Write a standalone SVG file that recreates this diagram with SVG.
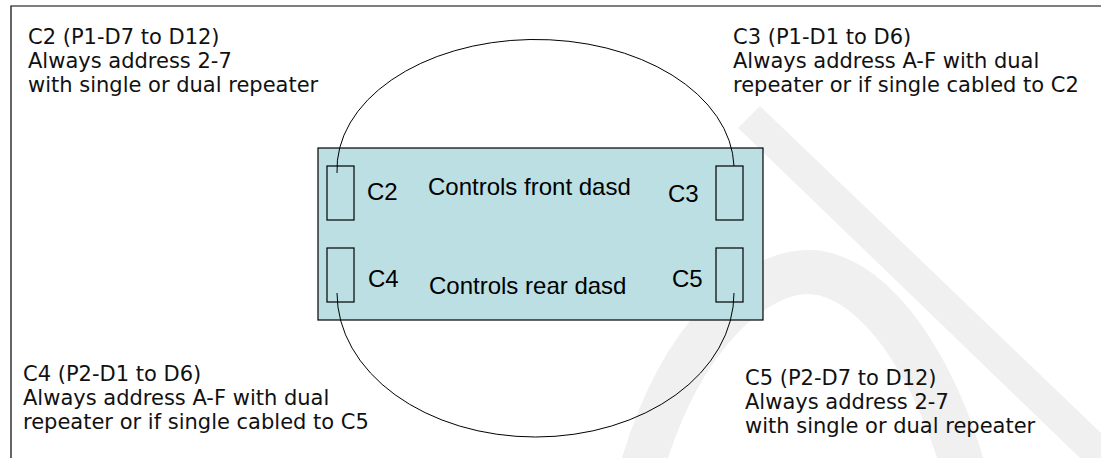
<svg xmlns="http://www.w3.org/2000/svg" width="1101" height="458" viewBox="0 0 1101 458">
<style>
.frame{fill:none;stroke:#000;stroke-width:1.2}
.board{fill:#bbdfe3;stroke:#000;stroke-width:1.2}
.slot{fill:#bbdfe3;stroke:#000;stroke-width:1.2}
.cable{fill:none;stroke:#000;stroke-width:1}
.lbl{font-family:"DejaVu Sans",Verdana,sans-serif;font-size:21px;fill:#111}
.in{font-family:"Liberation Sans",Arial,sans-serif;font-size:24px;fill:#000}
.wm{fill:#f0f0f0}
.wms{fill:none;stroke:#f0f0f0;stroke-width:44}
</style>
<rect width="1101" height="458" fill="#fff"/>
<g id="watermark">
<polygon class="wm" points="738,128 760,106 1101,433 1101,458 1080,458"/>
<path class="wms" d="M640,475 C680,330 760,270 810,272 C880,275 940,380 965,475"/>
</g>
<path class="frame" d="M11,458 V6 H1101"/>
<g id="board">
<rect class="board" x="318" y="148" width="445" height="172"/>
<text class="in" x="428" y="195">Controls front dasd</text>
<text class="in" x="429" y="294">Controls rear dasd</text>
</g>
<g id="C2"><rect class="slot" x="327" y="166" width="27" height="54"/><text class="in" x="367" y="200">C2</text></g>
<g id="C3"><rect class="slot" x="716" y="166" width="27" height="54"/><text class="in" x="668" y="202">C3</text></g>
<g id="C4"><rect class="slot" x="327" y="248" width="27" height="54"/><text class="in" x="368" y="287">C4</text></g>
<g id="C5"><rect class="slot" x="716" y="248" width="27" height="54"/><text class="in" x="672" y="287">C5</text></g>
<g id="connectors">
<path class="cable" d="M337,173 A198.5,130 0 0 1 734,166"/>
<path class="cable" d="M337,293 A198.5,144 0 0 0 734,293"/>
</g>
<g id="label-C2">
<text class="lbl" x="28" y="44">C2 (P1-D7 to D12)</text>
<text class="lbl" x="28" y="68">Always address 2-7</text>
<text class="lbl" x="28" y="92">with single or dual repeater</text>
</g>
<g id="label-C3">
<text class="lbl" x="733" y="44">C3 (P1-D1 to D6)</text>
<text class="lbl" x="733" y="68">Always address A-F with dual</text>
<text class="lbl" x="733" y="92">repeater or if single cabled to C2</text>
</g>
<g id="label-C4">
<text class="lbl" x="23" y="381">C4 (P2-D1 to D6)</text>
<text class="lbl" x="23" y="405">Always address A-F with dual</text>
<text class="lbl" x="23" y="429">repeater or if single cabled to C5</text>
</g>
<g id="label-C5">
<text class="lbl" x="745" y="385">C5 (P2-D7 to D12)</text>
<text class="lbl" x="745" y="409">Always address 2-7</text>
<text class="lbl" x="745" y="433">with single or dual repeater</text>
</g>
</svg>
